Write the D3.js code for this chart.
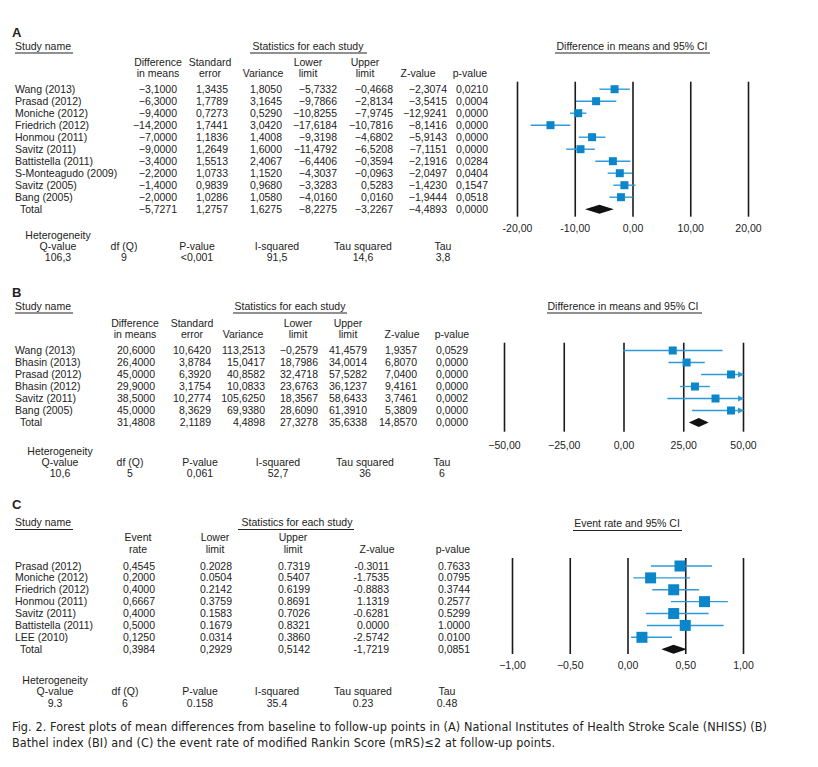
<!DOCTYPE html>
<html lang="en">
<head>
<meta charset="UTF-8">
<title>Forest plots</title>
<script src="https://d3js.org/d3.v7.min.js"></script>
<style>
  body { margin: 0; background: #fff; }
  svg text { font-family: "Liberation Sans", Arial, sans-serif; font-size: 10.5px; fill: #222; }
  .caption { font-family: "Liberation Sans Narrow", "DejaVu Sans Condensed", sans-serif; font-size: 12.5px; }
</style>
</head>
<body>
<svg id="chart" width="818" height="767"></svg>
<script>
// ---- Panel A: NIHSS, difference in means ----
const studiesA = ["Wang (2013)", "Prasad (2012)", "Moniche (2012)", "Friedrich (2012)", "Honmou (2011)",
  "Savitz (2011)", "Battistella (2011)", "S-Monteagudo (2009)", "Savitz (2005)", "Bang (2005)"];
const meanA  = [-3.1, -6.3, -9.4, -14.2, -7.0, -9.0, -3.4, -2.2, -1.4, -2.0];
const seA    = [1.3435, 1.7789, 0.7273, 1.7441, 1.1836, 1.2649, 1.5513, 1.0733, 0.9839, 1.0286];
const varA   = [1.8050, 3.1645, 0.5290, 3.0420, 1.4008, 1.6000, 2.4067, 1.1520, 0.9680, 1.0580];
const lowerA = [-5.7332, -9.7866, -10.8255, -17.6184, -9.3198, -11.4792, -6.4406, -4.3037, -3.3283, -4.0160];
const upperA = [-0.4668, -2.8134, -7.9745, -10.7816, -4.6802, -6.5208, -0.3594, -0.0963, 0.5283, 0.0160];
const zA     = [-2.3074, -3.5415, -12.9241, -8.1416, -5.9143, -7.1151, -2.1916, -2.0497, -1.4230, -1.9444];
const pA     = [0.0210, 0.0004, 0.0000, 0.0000, 0.0000, 0.0000, 0.0284, 0.0404, 0.1547, 0.0518];
const totalA = [-5.7271, 1.2757, 1.6275, -8.2275, -3.2267, -4.4893, 0.0000];
const hetA   = ["106,3", "9", "<0,001", "91,5", "14,6", "3,8"];
const ticksA = [-20, -10, 0, 10, 20];

// ---- Panel B: Barthel index, difference in means ----
const studiesB = ["Wang (2013)", "Bhasin (2013)", "Prasad (2012)", "Bhasin (2012)", "Savitz (2011)", "Bang (2005)"];
const meanB  = [20.6, 26.4, 45.0, 29.9, 38.5, 45.0];
const seB    = [10.6420, 3.8784, 6.3920, 3.1754, 10.2774, 8.3629];
const varB   = [113.2513, 15.0417, 40.8582, 10.0833, 105.6250, 69.9380];
const lowerB = [-0.2579, 18.7986, 32.4718, 23.6763, 18.3567, 28.6090];
const upperB = [41.4579, 34.0014, 57.5282, 36.1237, 58.6433, 61.3910];
const zB     = [1.9357, 6.8070, 7.0400, 9.4161, 3.7461, 5.3809];
const pB     = [0.0529, 0.0000, 0.0000, 0.0000, 0.0002, 0.0000];
const totalB = [31.4808, 2.1189, 4.4898, 27.3278, 35.6338, 14.8570, 0.0000];
const hetB   = ["10,6", "5", "0,061", "52,7", "36", "6"];
const ticksB = [-50, -25, 0, 25, 50];

// ---- Panel C: event rate of mRS <= 2 ----
const studiesC = ["Prasad (2012)", "Moniche (2012)", "Friedrich (2012)", "Honmou (2011)", "Savitz (2011)",
  "Battistella (2011)", "LEE (2010)"];
const rateC  = [0.4545, 0.2000, 0.4000, 0.6667, 0.4000, 0.5000, 0.1250];
const lowerC = [0.2028, 0.0504, 0.2142, 0.3759, 0.1583, 0.1679, 0.0314];
const upperC = [0.7319, 0.5407, 0.6199, 0.8691, 0.7026, 0.8321, 0.3860];
const zC     = [-0.3011, -1.7535, -0.8883, 1.1319, -0.6281, 0.0000, -2.5742];
const pC     = [0.7633, 0.0795, 0.3744, 0.2577, 0.5299, 1.0000, 0.0100];
const totalC = [0.3984, 0.2929, 0.5142, -1.7219, 0.0851];
const hetC   = ["9.3", "6", "0.158", "35.4", "0.23", "0.48"];
const ticksC = [-1, -0.5, 0, 0.5, 1];

const hetLabels = ["Q-value", "df (Q)", "P-value", "I-squared", "Tau squared", "Tau"];
const captionLines = [
  "Fig. 2. Forest plots of mean differences from baseline to follow-up points in (A) National Institutes of Health Stroke Scale (NHISS) (B)",
  "Bathel index (BI) and (C) the event rate of modified Rankin Score (mRS)\u22642 at follow-up points."
];

const svg = d3.select('#chart');
svg.append('rect').attr('width', 818).attr('height', 767).attr('fill', '#fff');

const blue = '#0b86cb', lineBlue = '#2f9ad9';

function fmt(v, sep, minus) {
  const s = Math.abs(v).toFixed(4).replace('.', sep);
  return (v < 0 ? minus : '') + s;
}

function underline(g, x0, x1, y) {
  g.append('line').attr('x1', x0).attr('x2', x1).attr('y1', y).attr('y2', y)
    .attr('stroke', '#222').attr('stroke-width', 1);
}

function drawPanel(p) {
  const g = svg.append('g');
  const rowNames = p.studies.concat(['Total']);
  const row = d3.scalePoint().domain(d3.range(rowNames.length)).range(p.rowRange);

  g.append('text').attr('x', 12).attr('y', p.letterY)
    .style('font-size', '13px').style('font-weight', 'bold').text(p.letter);

  g.append('text').attr('x', 15).attr('y', p.headY).text('Study name');
  underline(g, 15, 73, p.headY + 3.5);
  g.append('text').attr('x', p.statsX).attr('y', p.headY).attr('text-anchor', 'middle')
    .text('Statistics for each study');
  underline(g, p.statsU[0], p.statsU[1], p.headY + 3.5);

  p.headers.forEach((h, j) => {
    h.forEach((line, k) => {
      if (!line) return;
      g.append('text').attr('x', p.headX[j]).attr('y', p.hdrY[k])
        .attr('text-anchor', 'middle').text(line);
    });
  });

  // study names
  g.selectAll('.name').data(rowNames).enter().append('text')
    .attr('x', (d, i) => i === rowNames.length - 1 ? 20 : 15)
    .attr('y', (d, i) => row(i))
    .text(d => d);

  // table values
  p.columns.forEach((col, j) => {
    const vals = col.concat([p.total[j]]);
    g.selectAll('.c' + j).data(vals).enter().append('text')
      .attr('x', p.colRight[j])
      .attr('y', (d, i) => row(i))
      .attr('text-anchor', 'end')
      .text((d, i) => fmt(d, i === vals.length - 1 ? ',' : p.sep[j], p.minus));
  });

  // heterogeneity
  g.append('text').attr('x', p.hetX[0]).attr('y', p.hetY[0]).attr('text-anchor', 'middle').text('Heterogeneity');
  hetLabels.forEach((t, j) => {
    g.append('text').attr('x', p.hetX[j]).attr('y', p.hetY[1]).attr('text-anchor', 'middle').text(t);
    g.append('text').attr('x', p.hetX[j]).attr('y', p.hetY[2]).attr('text-anchor', 'middle').text(p.het[j]);
  });

  // forest plot
  const x = d3.scaleLinear().domain(p.domain).range(p.range);
  const gridH = p.grid[1] - p.grid[0];
  const axis = g.append('g').attr('transform', `translate(0,${p.grid[1]})`)
    .call(d3.axisBottom(x).tickValues(p.ticks).tickSizeInner(-gridH).tickSizeOuter(0)
      .tickPadding(p.tickPad).tickFormat(p.tickFmt));
  axis.select('.domain').remove();
  axis.selectAll('.tick line').attr('stroke', '#1a1a1a').attr('stroke-width', 1.6);
  axis.selectAll('.tick text').attr('fill', '#222')
    .style('font-family', '"Liberation Sans", Arial, sans-serif').style('font-size', '10.5px');

  g.append('text').attr('x', p.titleX).attr('y', p.titleY).attr('text-anchor', 'middle').text(p.title);
  underline(g, p.titleU[0], p.titleU[1], p.titleY + 3.5);

  const xmax = p.domain[1];
  const cy = i => row(i) - 3.5;

  g.selectAll('.ci').data(p.est).enter().append('line')
    .attr('x1', (d, i) => x(p.lo[i]))
    .attr('x2', (d, i) => x(Math.min(p.hi[i], xmax)))
    .attr('y1', (d, i) => cy(i)).attr('y2', (d, i) => cy(i))
    .attr('stroke', lineBlue).attr('stroke-width', 1.4);

  // arrows for limits beyond the axis
  g.selectAll('.arrow').data(p.est.map((d, i) => i).filter(i => p.hi[i] > xmax)).enter().append('path')
    .attr('d', i => `M${x(xmax) + 1},${cy(i)} l-6,-3 l0,6 z`)
    .attr('fill', lineBlue);

  g.selectAll('.sq').data(p.est).enter().append('rect')
    .attr('x', d => x(d) - p.sq / 2)
    .attr('y', (d, i) => cy(i) - p.sq / 2)
    .attr('width', p.sq).attr('height', p.sq)
    .attr('fill', blue);

  const n = p.est.length;
  const tEst = p.total[0], tLo = p.totLo, tHi = p.totHi, ty = cy(n);
  g.append('path')
    .attr('d', `M${x(tLo)},${ty} L${x(tEst)},${ty - 4.5} L${x(tHi)},${ty} L${x(tEst)},${ty + 4.5} Z`)
    .attr('fill', '#111');
}

const fmtA = d => (d < 0 ? '-' : '') + Math.abs(d).toFixed(2).replace('.', ',');
const fmtB = d => (d < 0 ? '\u2212' : '') + Math.abs(d).toFixed(2).replace('.', ',');

drawPanel({
  letter: 'A', letterY: 37, headY: 49.5, hdrY: [65.5, 76.5], rowRange: [92.7, 212.7],
  hetY: [239, 249.5, 261], statsX: 308, statsU: [250, 367],
  studies: studiesA,
  headers: [["Difference", "in means"], ["Standard", "error"], ["", "Variance"], ["Lower", "limit"],
    ["Upper", "limit"], ["", "Z-value"], ["", "p-value"]],
  headX: [158, 210, 263, 308, 365, 418, 470],
  colRight: [177, 228, 282, 337, 393, 447, 488],
  columns: [meanA, seA, varA, lowerA, upperA, zA, pA], total: totalA,
  sep: [',', ',', ',', ',', ',', ',', ','], minus: '\u2212',
  hetX: [58, 124, 197, 277, 363, 443], het: hetA,
  est: meanA, lo: lowerA, hi: upperA, totLo: totalA[3], totHi: totalA[4],
  domain: [-20, 20], range: [517, 748], ticks: ticksA, tickFmt: fmtA, grid: [81.7, 216.7], tickPad: 8,
  title: 'Difference in means and 95% CI', titleX: 632, titleY: 49.5, titleU: [555, 710], sq: 8
});

drawPanel({
  letter: 'B', letterY: 297, headY: 309.5, hdrY: [326.5, 338], rowRange: [354, 426],
  hetY: [455, 465.5, 477], statsX: 290, statsU: [233, 347],
  studies: studiesB,
  headers: [["Difference", "in means"], ["Standard", "error"], ["", "Variance"], ["Lower", "limit"],
    ["Upper", "limit"], ["", "Z-value"], ["", "p-value"]],
  headX: [135, 192, 243, 298, 348, 402, 452],
  colRight: [155, 211, 265, 318, 367, 417, 468],
  columns: [meanB, seB, varB, lowerB, upperB, zB, pB], total: totalB,
  sep: [',', ',', ',', ',', ',', ',', ','], minus: '\u2212',
  hetX: [60, 130, 200, 278, 365, 442], het: hetB,
  est: meanB, lo: lowerB, hi: upperB, totLo: totalB[3], totHi: totalB[4],
  domain: [-50, 50], range: [504, 743], ticks: ticksB, tickFmt: fmtB, grid: [342.7, 431.7], tickPad: 9.5,
  title: 'Difference in means and 95% CI', titleX: 623, titleY: 309.5, titleU: [547, 702], sq: 8
});

drawPanel({
  letter: 'C', letterY: 509, headY: 526, hdrY: [541, 553], rowRange: [569.5, 652.7],
  hetY: [684, 695, 706.5], statsX: 297, statsU: [238, 354],
  studies: studiesC,
  headers: [["Event", "rate"], ["Lower", "limit"], ["Upper", "limit"], ["", "Z-value"], ["", "p-value"]],
  headX: [138, 215, 293, 377, 453],
  colRight: [155, 232, 310, 389, 470],
  columns: [rateC, lowerC, upperC, zC, pC], total: totalC,
  sep: [',', '.', '.', '.', '.'], minus: '-',
  hetX: [55, 125, 200, 277, 363, 447], het: hetC,
  est: rateC, lo: lowerC, hi: upperC, totLo: totalC[1], totHi: totalC[2],
  domain: [-1, 1], range: [512, 743], ticks: ticksC, tickFmt: fmtB, grid: [558, 654], tickPad: 7.5,
  title: 'Event rate and 95% CI', titleX: 627, titleY: 527, titleU: [573, 682], sq: 11
});

// caption
svg.selectAll('.caption').data(captionLines).enter().append('text')
  .attr('class', 'caption')
  .attr('x', 12)
  .attr('y', (d, i) => 730.5 + i * 16.5)
  .attr('textLength', (d, i) => i === 0 ? 755 : 543)
  .attr('lengthAdjust', 'spacing')
  .text(d => d);
</script>
</body>
</html>
